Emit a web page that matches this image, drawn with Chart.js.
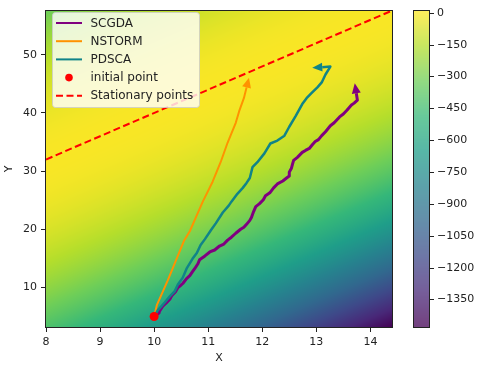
<!DOCTYPE html>
<html>
<head>
<meta charset="utf-8">
<script src="https://cdn.jsdelivr.net/npm/chart.js@4.4.0/dist/chart.umd.min.js"></script>
<style>
  html, body { margin: 0; padding: 0; background: #fff; }
</style>
</head>
<body>
<canvas id="chart" width="481" height="365"></canvas>
<script>
// trajectories
const scgdaX = [10, 10.09, 10.10, 10.16, 10.22, 10.29, 10.33, 10.40, 10.44, 10.49, 10.53, 10.60, 10.66, 10.71, 10.75, 10.81, 10.84, 10.94, 11.03, 11.12, 11.21, 11.29, 11.36, 11.43, 11.51, 11.60, 11.66, 11.71, 11.77, 11.80, 11.82, 11.84, 11.88, 11.95, 12.02, 12.06, 12.14, 12.21, 12.28, 12.38, 12.45, 12.50, 12.50, 12.54, 12.56, 12.58, 12.65, 12.74, 12.80, 12.87, 12.93, 12.98, 13.04, 13.10, 13.17, 13.26, 13.33, 13.43, 13.50, 13.57, 13.65, 13.70, 13.76, 13.74];
const scgdaY = [5, 5.59, 5.93, 6.78, 7.29, 7.97, 8.64, 9.32, 10.0, 10.34, 10.68, 11.53, 12.03, 12.71, 13.22, 14.07, 14.75, 15.42, 16.10, 16.44, 17.12, 17.46, 18.14, 18.64, 19.32, 20.0, 20.34, 20.85, 21.53, 22.03, 22.54, 23.05, 23.90, 24.41, 25.08, 25.76, 26.27, 27.12, 27.80, 28.31, 28.81, 29.15, 29.83, 30.51, 31.19, 31.86, 32.37, 33.22, 33.56, 33.90, 34.58, 35.08, 35.42, 36.10, 36.78, 37.80, 38.31, 39.32, 39.83, 40.51, 41.36, 41.69, 42.20, 43.39];

const nstormX = [10, 10.05, 10.25, 10.40, 10.55, 10.66, 10.90, 11.08, 11.23, 11.36, 11.51, 11.58, 11.66, 11.71];
const nstormY = [5, 6.95, 11.19, 14.58, 17.97, 19.66, 24.75, 28.14, 31.53, 34.92, 38.31, 40.5, 42.54, 44.4];

const pdscaX = [10, 10.07, 10.20, 10.29, 10.38, 10.44, 10.53, 10.60, 10.71, 10.79, 10.86, 10.94, 11.05, 11.14, 11.27, 11.38, 11.43, 11.54, 11.64, 11.71, 11.77, 11.82, 11.91, 12.04, 12.15, 12.28, 12.41, 12.50, 12.62, 12.74, 12.82, 12.91, 13.02, 13.10, 13.17, 13.26, 13.11];
const pdscaY = [5, 6.10, 7.46, 8.47, 9.32, 10.51, 11.69, 13.22, 14.92, 15.93, 17.29, 18.31, 19.83, 21.02, 22.88, 24.07, 24.75, 26.10, 27.12, 27.97, 28.81, 30.68, 31.53, 33.05, 34.75, 35.25, 36.10, 37.63, 39.49, 41.53, 42.54, 43.39, 44.41, 45.25, 46.61, 47.97, 47.88];

const initX = [10];
const initY = [5];

// stationary points lie on y = 4x
const statX = [8, 14.4];
const statY = [32, 57.6];
const fieldCoef = 0.5;

const xRange = [8, 14.4];
const yRange = [3.2, 57.6];
const cbRange = [-1480, 10];
const xTicks = [8, 9, 10, 11, 12, 13, 14];
const yTicks = [10, 20, 30, 40, 50];
const cbTicks = [0, -150, -300, -450, -600, -750, -900, -1050, -1200, -1350];

const FONT = 'DejaVu Sans';
const INK = '#222';

const viridis = ['#440154', '#482878', '#3e4989', '#31688e', '#26828e', '#1f9e89', '#35b779', '#6ece58', '#b5de2b', '#fde725'];
const viridisRgb = viridis.map(h => [1, 3, 5].map(i => parseInt(h.slice(i, i + 2), 16)));

function viridisAt(t) {
  t = Math.min(1, Math.max(0, t)) * (viridisRgb.length - 1);
  const i = Math.min(Math.floor(t), viridisRgb.length - 2);
  const f = t - i;
  const a = viridisRgb[i], b = viridisRgb[i + 1];
  return [0, 1, 2].map(k => Math.round(a[k] + (b[k] - a[k]) * f));
}

function fieldValue(x, y) {
  const slope = statY[0] / statX[0];
  const d = y - slope * x;
  return -fieldCoef * d * d;
}

function toPoints(xs, ys) {
  return xs.map((x, i) => ({ x: x, y: ys[i] }));
}

// background objective surface, one pixel at a time via the scales
const heatmapPlugin = {
  id: 'heatmap',
  beforeDatasetsDraw(chart) {
    const { ctx, chartArea: a, scales } = chart;
    const left = Math.round(a.left), top = Math.round(a.top);
    const w = Math.round(a.right) - left, h = Math.round(a.bottom) - top;
    const img = ctx.createImageData(w, h);
    for (let j = 0; j < h; j++) {
      const yv = scales.y.getValueForPixel(top + j + 0.5);
      for (let i = 0; i < w; i++) {
        const xv = scales.x.getValueForPixel(left + i + 0.5);
        const t = (fieldValue(xv, yv) - cbRange[0]) / (cbRange[1] - cbRange[0]);
        const c = viridisAt(t);
        const k = (j * w + i) * 4;
        img.data[k] = c[0];
        img.data[k + 1] = c[1];
        img.data[k + 2] = c[2];
        img.data[k + 3] = 255;
      }
    }
    ctx.putImageData(img, left, top);
  }
};

function drawHead(ctx, p0, p1, color, len, half) {
  const dx = p1.x - p0.x, dy = p1.y - p0.y, d = Math.hypot(dx, dy);
  const ux = dx / d, uy = dy / d;
  ctx.beginPath();
  ctx.moveTo(p1.x + ux * len, p1.y + uy * len);
  ctx.lineTo(p1.x - uy * half, p1.y + ux * half);
  ctx.lineTo(p1.x + uy * half, p1.y - ux * half);
  ctx.closePath();
  ctx.fillStyle = color;
  ctx.fill();
}

const arrowPlugin = {
  id: 'arrows',
  afterDatasetsDraw(chart) {
    const ctx = chart.ctx;
    ctx.save();
    chart.data.datasets.forEach((ds, i) => {
      if (!ds.arrow) return;
      const pts = chart.getDatasetMeta(i).data;
      const n = pts.length;
      drawHead(ctx, pts[n - 2], pts[n - 1], ds.borderColor, 10, 4.5);
    });
    ctx.restore();
  }
};

const framePlugin = {
  id: 'frame',
  afterDraw(chart) {
    const { ctx, chartArea: a, scales } = chart;
    ctx.save();
    ctx.strokeStyle = INK;
    ctx.lineWidth = 1;
    ctx.strokeRect(Math.round(a.left) - 0.5, Math.round(a.top) - 0.5, Math.round(a.right - a.left) + 1, Math.round(a.bottom - a.top) + 1);

    // legend
    const lx = 52.5, ly = 12.5, lw = 147, lh = 95;
    ctx.beginPath();
    ctx.roundRect(lx, ly, lw, lh, 3);
    ctx.fillStyle = 'rgba(255,255,255,0.8)';
    ctx.fill();
    ctx.strokeStyle = 'rgba(204,204,204,0.8)';
    ctx.stroke();
    ctx.font = '12px "' + FONT + '"';
    ctx.textBaseline = 'middle';
    ctx.textAlign = 'left';
    chart.data.datasets.forEach((ds, i) => {
      const ry = 23 + i * 18.2;
      if (ds.showLine) {
        ctx.beginPath();
        ctx.setLineDash(ds.borderDash || []);
        ctx.moveTo(56, ry);
        ctx.lineTo(82, ry);
        ctx.strokeStyle = ds.borderColor;
        ctx.lineWidth = 2;
        ctx.stroke();
        ctx.setLineDash([]);
      } else {
        ctx.beginPath();
        ctx.arc(69, ry, 3.8, 0, Math.PI * 2);
        ctx.fillStyle = ds.backgroundColor;
        ctx.fill();
      }
      ctx.fillStyle = INK;
      ctx.fillText(ds.label, 90.5, ry + 0.5);
    });

    // colorbar, mapped through the hidden cb scale
    const cb = scales.cb;
    const cx = 414, cw = 15;
    for (let py = Math.round(cb.top); py < Math.round(cb.bottom); py++) {
      const c = viridisAt((cb.getValueForPixel(py + 0.5) - cbRange[0]) / (cbRange[1] - cbRange[0]));
      const mix = c.map(v => Math.round(v * 0.75 + 255 * 0.25));
      ctx.fillStyle = 'rgb(' + mix.join(',') + ')';
      ctx.fillRect(cx, py, cw, 1);
    }
    ctx.strokeStyle = INK;
    ctx.lineWidth = 1;
    ctx.strokeRect(cx - 0.5, Math.round(cb.top) - 0.5, cw + 1, Math.round(cb.bottom - cb.top) + 1);
    ctx.font = '11px "' + FONT + '"';
    ctx.fillStyle = INK;
    cbTicks.forEach(v => {
      const py = Math.round(cb.getPixelForValue(v)) + 0.5;
      ctx.beginPath();
      ctx.moveTo(cx + cw + 0.5, py);
      ctx.lineTo(cx + cw + 5, py);
      ctx.stroke();
      ctx.fillText(v === 0 ? '0' : '\u2212' + Math.abs(v), cx + cw + 8, py);
    });
    ctx.restore();
  }
};

const tickFont = { family: FONT, size: 11 };

new Chart(document.getElementById('chart'), {
  type: 'scatter',
  data: {
    datasets: [
      { label: 'SCGDA', data: toPoints(scgdaX, scgdaY), showLine: true, borderColor: '#800080', borderWidth: 3, pointRadius: 0, order: 4, arrow: true },
      { label: 'NSTORM', data: toPoints(nstormX, nstormY), showLine: true, borderColor: '#ff9200', borderWidth: 2, pointRadius: 0, order: 3, arrow: true },
      { label: 'PDSCA', data: toPoints(pdscaX, pdscaY), showLine: true, borderColor: '#108488', borderWidth: 2.5, pointRadius: 0, order: 2, arrow: true },
      { label: 'initial point', data: toPoints(initX, initY), backgroundColor: '#ff0000', borderWidth: 0, pointRadius: 4.5, order: 0 },
      { label: 'Stationary points', data: toPoints(statX, statY), showLine: true, borderColor: '#ff0000', borderWidth: 2, borderDash: [7, 3.5], pointRadius: 0, order: 1 }
    ]
  },
  options: {
    responsive: false,
    animation: false,
    events: [],
    layout: { padding: { top: 6, right: 89, left: 0, bottom: 0 } },
    plugins: { legend: { display: false }, tooltip: { enabled: false } },
    elements: { line: { borderJoinStyle: 'round' } },
    scales: {
      x: {
        type: 'linear', min: xRange[0], max: xRange[1],
        afterBuildTicks: s => { s.ticks = xTicks.map(v => ({ value: v })); },
        afterFit: s => { s.height = 38; },
        grid: { drawOnChartArea: false, tickLength: 5, color: INK },
        border: { display: false },
        ticks: { color: INK, font: tickFont, padding: 4, maxRotation: 0 },
        title: { display: true, text: 'X', color: INK, font: tickFont, padding: 0 }
      },
      y: {
        type: 'linear', min: yRange[0], max: yRange[1],
        afterBuildTicks: s => { s.ticks = yTicks.map(v => ({ value: v })); },
        afterFit: s => { s.width = 46; },
        grid: { drawOnChartArea: false, tickLength: 5, color: INK },
        border: { display: false },
        ticks: { color: INK, font: tickFont, padding: 4 },
        title: { display: true, text: 'Y', color: INK, font: tickFont, padding: 3 }
      },
      cb: { type: 'linear', axis: 'y', position: 'right', display: false, min: cbRange[0], max: cbRange[1] }
    }
  },
  plugins: [heatmapPlugin, arrowPlugin, framePlugin]
});
</script>
</body>
</html>
